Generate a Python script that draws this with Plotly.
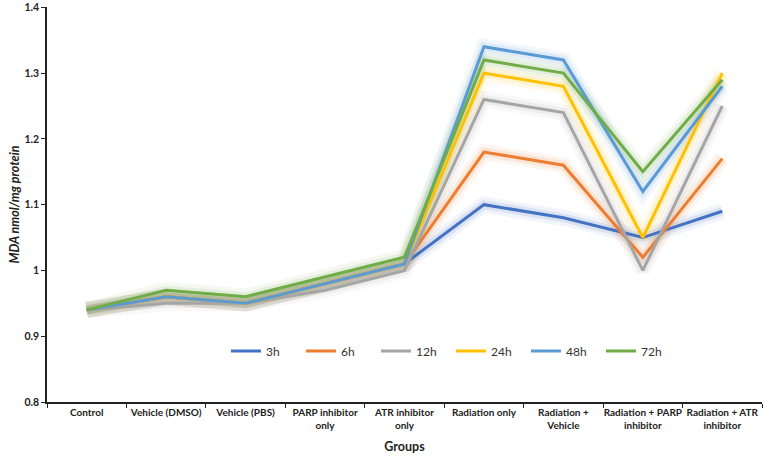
import plotly.graph_objects as go

groups = ["Control", "Vehicle (DMSO)", "Vehicle (PBS)", "PARP inhibitor<br>only",
          "ATR inhibitor<br>only", "Radiation only", "Radiation +<br>Vehicle",
          "Radiation + PARP<br>inhibitor", "Radiation + ATR<br>inhibitor"]

series_names = ["3h", "6h", "12h", "24h", "48h", "72h"]
v_3h  = [0.94, 0.96, 0.95, 0.98, 1.01, 1.10, 1.08, 1.05, 1.09]
v_6h  = [0.94, 0.96, 0.95, 0.98, 1.01, 1.18, 1.16, 1.02, 1.17]
v_12h = [0.94, 0.95, 0.95, 0.97, 1.00, 1.26, 1.24, 1.00, 1.25]
v_24h = [0.94, 0.96, 0.95, 0.98, 1.01, 1.30, 1.28, 1.05, 1.30]
v_48h = [0.94, 0.96, 0.95, 0.98, 1.01, 1.34, 1.32, 1.12, 1.28]
v_72h = [0.94, 0.97, 0.96, 0.99, 1.02, 1.32, 1.30, 1.15, 1.29]
series_values = [v_3h, v_6h, v_12h, v_24h, v_48h, v_72h]
colors = ["#4472C4", "#ED7D31", "#A5A5A5", "#FFC000", "#5B9BD5", "#70AD47"]

y_ticks = [0.8, 0.9, 1.0, 1.1, 1.2, 1.3, 1.4]
y_tick_text = ["0.8", "0.9", "1", "1.1", "1.2", "1.3", "1.4"]

fig = go.Figure()

# soft glow layers
for name, vals, col in zip(series_names, series_values, colors):
    for w, op in [(16, 0.07), (9, 0.12)]:
        fig.add_trace(go.Scatter(x=groups, y=vals, mode="lines",
                                 line=dict(color=col, width=w),
                                 opacity=op, showlegend=False, hoverinfo="skip"))

for name, vals, col in zip(series_names, series_values, colors):
    fig.add_trace(go.Scatter(x=groups, y=vals, mode="lines", name=name,
                             line=dict(color=col, width=3)))

font_family = "Lato, Open Sans, sans-serif"

fig.update_layout(
    width=764, height=458,
    margin=dict(l=47, r=2, t=7, b=56),
    plot_bgcolor="white", paper_bgcolor="white",
    font=dict(family=font_family, size=11, color="#222222"),
    showlegend=True,
    legend=dict(orientation="h", x=0.565, xanchor="center", y=0.129, yanchor="middle",
                font=dict(size=12, color="#333333"), bgcolor="rgba(0,0,0,0)",
                itemwidth=30, entrywidth=30, entrywidthmode="pixels", traceorder="normal"),
    xaxis=dict(
        showline=True, linecolor="#222222", linewidth=1.5,
        ticks="outside", tickson="boundaries", ticklen=4, tickcolor="#222222",
        showgrid=False, tickangle=0, automargin=False,
        tickfont=dict(size=10, color="#222222", family=font_family),
        title=dict(text="<b>Groups</b>", font=dict(size=12.5, color="#222222"), standoff=12),
        range=[-0.5, 8.5],
    ),
    yaxis=dict(
        range=[0.8, 1.4005], tickvals=y_ticks, ticktext=["<b>%s</b>" % t for t in y_tick_text],
        showline=True, linecolor="#222222", linewidth=1.5, automargin=False,
        ticks="outside", ticklen=4, tickcolor="#222222", showgrid=False, zeroline=False,
        tickfont=dict(size=10.5, color="#222222"),
        title=dict(text="<b><i>MDA nmol/mg protein</i></b>", font=dict(size=12.5, color="#222222"), standoff=2),
    ),
)
fig.update_xaxes(tickmode="array", tickvals=groups, ticktext=["<b>%s</b>" % g for g in groups])

fig.write_html("out.html")
